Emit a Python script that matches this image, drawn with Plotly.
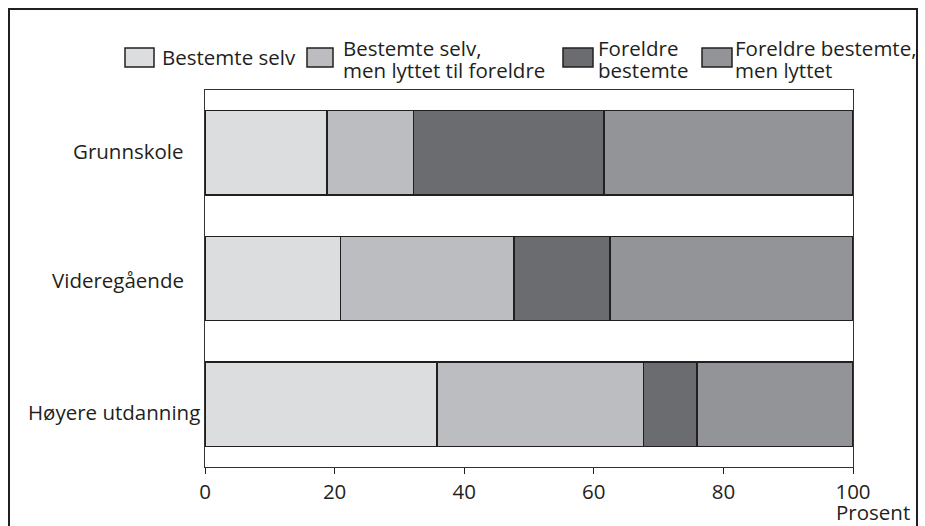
import plotly.graph_objects as go

# ---- data ----
categories = ["Grunnskole", "Videregående", "Høyere utdanning"]
series_names = [
    "Bestemte selv",
    "Bestemte selv,<br>men lyttet til foreldre",
    "Foreldre<br>bestemte",
    "Foreldre bestemte,<br>men lyttet",
]
bestemte_selv = [18.8, 20.9, 35.8]
bestemte_selv_lyttet = [13.4, 26.8, 31.9]
foreldre_bestemte = [29.4, 14.8, 8.2]
foreldre_bestemte_lyttet = [38.4, 37.5, 24.1]
x_ticks = [0, 20, 40, 60, 80, 100]
x_title = "Prosent"

series_values = [bestemte_selv, bestemte_selv_lyttet, foreldre_bestemte, foreldre_bestemte_lyttet]
colors = ["#dcdddf", "#bcbdc1", "#6b6c70", "#939498"]
edge = "#231f20"
FONT = "Open Sans"
FS = 20.5

W, H = 925, 526
L, R, T, B = 205, 853, 90, 467


def px(xp):
    return (xp - L) / (R - L)


def py(yp):
    return (B - yp) / (B - T)


fig = go.Figure()
for name, vals, col in zip(series_names, series_values, colors):
    fig.add_trace(go.Bar(
        y=categories, x=vals, name=name.replace("<br>", " "), orientation="h",
        marker=dict(color=col, line=dict(color=edge, width=1.5)),
        width=0.67, showlegend=False,
    ))

annotations = []
shapes = []

# manual legend (swatch + text lines)
leg_swatch = [(125, 154), (307, 333), (563, 593), (702, 732)]
leg_text_x = [162, 343, 598, 735]
sw_y0, sw_y1 = 48, 67
single_center = 57
line_centers = [48, 70]
for (x0, x1), tx, name, col in zip(leg_swatch, leg_text_x, series_names, colors):
    shapes.append(dict(type="rect", xref="paper", yref="paper",
                       x0=px(x0), x1=px(x1), y0=py(sw_y1), y1=py(sw_y0),
                       fillcolor=col, line=dict(color=edge, width=1.5)))
    lines = name.split("<br>")
    ys = [single_center] if len(lines) == 1 else line_centers
    for ln, yc in zip(lines, ys):
        annotations.append(dict(text=ln, xref="paper", yref="paper",
                                x=px(tx), y=py(yc), xanchor="left", yanchor="middle",
                                align="left", showarrow=False,
                                font=dict(family=FONT, size=FS, color=edge),
                                xshift=-2))

# category labels
cat_label_right = [186, 186, 202]
cat_yshift = [2, -1, -8]
for c, xr, ys in zip(categories, cat_label_right, cat_yshift):
    annotations.append(dict(text=c, xref="paper", yref="y", x=px(xr), y=c,
                            xanchor="right", yanchor="middle", showarrow=False,
                            yshift=ys, font=dict(family=FONT, size=FS, color=edge)))

# axis title
annotations.append(dict(text=x_title, xref="paper", yref="paper",
                        x=px(912), y=py(512), xanchor="right", yanchor="middle",
                        showarrow=False, font=dict(family=FONT, size=FS, color=edge)))

# outer frame
shapes.append(dict(type="rect", xref="paper", yref="paper",
                   x0=px(9), x1=px(917), y0=py(560), y1=py(9),
                   line=dict(color=edge, width=2), fillcolor="rgba(0,0,0,0)"))

fig.update_layout(
    width=W, height=H,
    margin=dict(l=L, r=W - R, t=T, b=H - B, pad=0),
    barmode="stack",
    plot_bgcolor="white", paper_bgcolor="white",
    font=dict(family=FONT, size=FS, color=edge),
    annotations=annotations, shapes=shapes,
    bargap=0.33,
)
fig.update_xaxes(range=[0, 100], tickvals=x_ticks, ticks="outside", ticklen=6,
                 tickcolor=edge, tickwidth=1, showgrid=False, zeroline=False,
                 showline=True, linecolor="#333333", linewidth=1, mirror=True,
                 tickfont=dict(family=FONT, size=FS, color=edge))
fig.update_yaxes(categoryorder="array", categoryarray=categories, autorange="reversed",
                 showticklabels=False, ticks="", showgrid=False, zeroline=False,
                 showline=True, linecolor="#333333", linewidth=1, mirror=True)

fig.write_html("out.html",
               config={"displayModeBar": False},
               post_script="document.body.style.margin='0';document.body.style.overflow='hidden';")
